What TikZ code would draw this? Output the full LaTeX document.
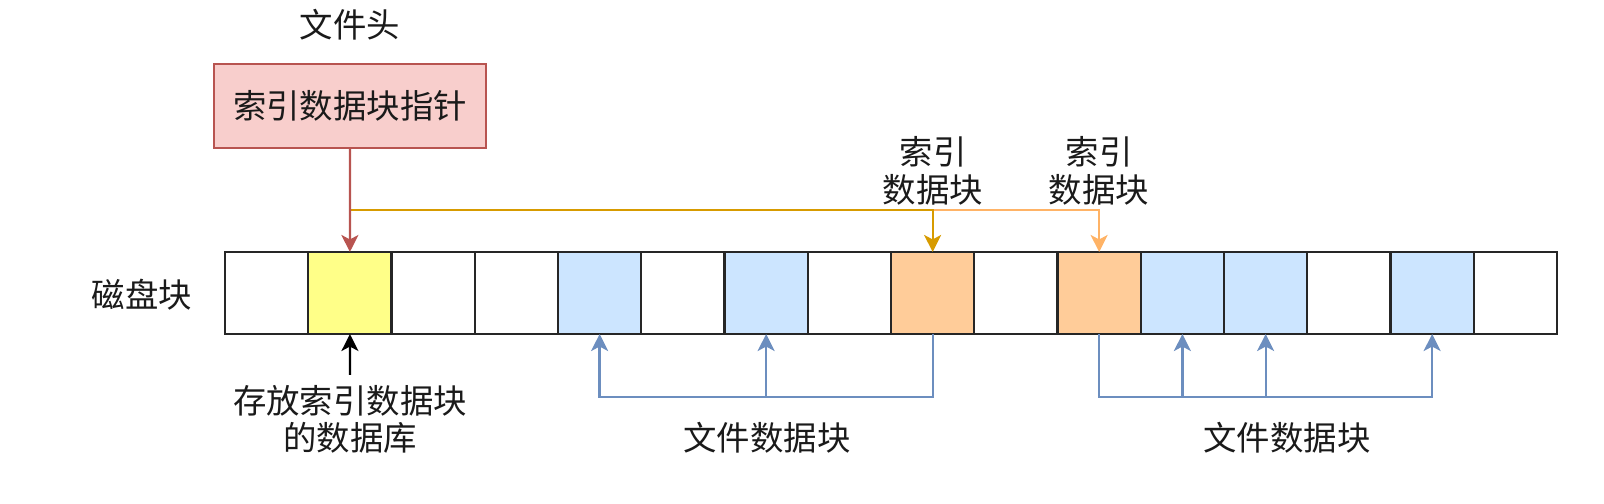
\documentclass[tikz,border=0pt]{standalone}
\usepackage{fontspec}
\setmainfont{Noto Sans CJK SC}
\usetikzlibrary{arrows.meta}
\definecolor{redstroke}{HTML}{B85450}
\definecolor{redfill}{HTML}{F8CECC}
\definecolor{yelfill}{HTML}{FFFF88}
\definecolor{orafill}{HTML}{FFCC99}
\definecolor{bluefill}{HTML}{CCE5FF}
\definecolor{bluestroke}{HTML}{6C8EBF}
\definecolor{oradark}{HTML}{D79B00}
\definecolor{oralight}{HTML}{FFB366}
\definecolor{txt}{HTML}{1A1A1A}
\tikzset{
  cell/.style={draw=black!85, line width=0.65pt, minimum width=0.8325cm, minimum height=0.82cm, inner sep=0pt, outer sep=0pt},
  lbl/.style={text=txt, font=\fontsize{9.5pt}{10.4pt}\selectfont, inner sep=0pt, align=center},
  tip/.style={-{Stealth[length=0.17cm, width=0.17cm, inset=0.045cm]}},
  redline/.style={draw=redstroke, line width=0.65pt, tip},
  oraD/.style={draw=oradark, line width=0.65pt, tip},
  oraL/.style={draw=oralight, line width=0.65pt, tip},
  bluearrow/.style={draw=bluestroke, line width=0.65pt, tip},
  blackarrow/.style={draw=black, line width=0.65pt, tip}
}
\begin{document}
\begin{tikzpicture}[x=0.01cm, y=-0.01cm]
\useasboundingbox (0,0) rectangle (1604,504);
% header
\node[lbl] (head) at (350,25) {文件头};
\node[draw=redstroke, fill=redfill, line width=0.7pt, minimum width=2.72cm, minimum height=0.84cm, inner sep=0pt, text=txt, font=\fontsize{9.5pt}{10.4pt}\selectfont] (ptr) at (350,106) {索引数据块指针};
% cells
\foreach \i/\col in {0/white,1/yelfill,2/white,3/white,4/bluefill,5/white,6/bluefill,7/white,8/orafill,9/white,10/orafill,11/bluefill,12/bluefill,13/white,14/bluefill,15/white}{
  \node[cell, fill=\col] (c\i) at ({225+83.25*(\i+0.5)},293) {};
}
\node[lbl] (disk) at (142,295) {磁盘块};
% index labels
\node[lbl, font=\fontsize{9.5pt}{10.8pt}\selectfont] (idx1) at (933,171) {索引\\数据块};
\node[lbl, font=\fontsize{9.5pt}{10.8pt}\selectfont] (idx2) at (1099,171) {索引\\数据块};
% orange connectors
\coordinate (j1) at (350,210);
\coordinate (j2) at (933,210);
\draw[oraL] (j2) -| (c10.north);
\draw[oraD] (j1) -| (c8.north);
% red pointer
\draw[redline] (ptr.south) -- (c1.north);
% bottom label of yellow cell
\node[lbl, anchor=north] (store) at (350,385) {存放索引数据块\\的数据库};
\draw[blackarrow, shorten <=0.1cm] (store.north) -- (c1.south);
% blue connectors
\coordinate (ylow) at (0,397);
\draw[bluearrow] (c8.south) |- (c4.south |- ylow) -- (c4.south);
\draw[bluearrow] (c6.south |- ylow) -- (c6.south);
\draw[bluearrow] (c10.south) |- (c14.south |- ylow) -- (c14.south);
\draw[bluearrow] (c11.south |- ylow) -- (c11.south);
\draw[bluearrow] (c12.south |- ylow) -- (c12.south);
\node[lbl] (file1) at (767,438) {文件数据块};
\node[lbl] (file2) at (1287,438) {文件数据块};
\end{tikzpicture}
\end{document}
